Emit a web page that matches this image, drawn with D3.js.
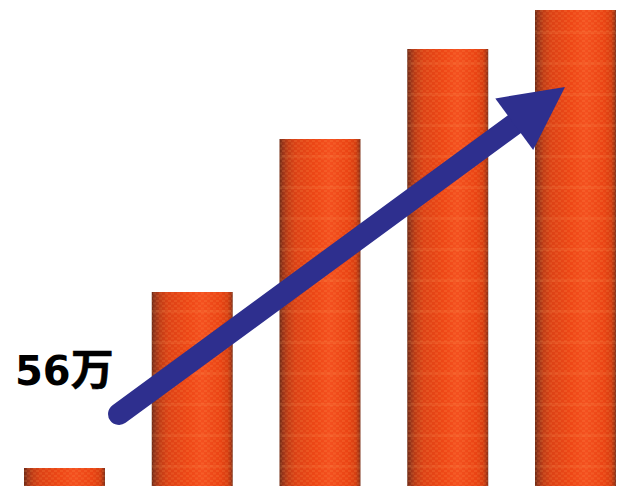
<!DOCTYPE html>
<html><head><meta charset="utf-8">
<script src="https://cdn.jsdelivr.net/npm/d3@7/dist/d3.min.js"></script>
<style>html,body{margin:0;padding:0;background:#fff}svg{display:block}</style>
</head><body><svg id="c" width="629" height="486"></svg>
<script>
const categories = ["1","2","3","4","5"];
const values = [18, 194, 347, 437, 476];
const labelText = ["56", "万"];
const arrowStart = [0.427, 72];
const arrowEnd = [3.918, 399];

const W = 629, H = 486;
const svg = d3.select("#c");
const x = d3.scaleBand().domain(categories).range([24, 616]).paddingInner(0.366);
const y = d3.scaleLinear().domain([0, 486]).range([H, 0]);
const xPos = d3.scaleLinear().domain([0, 4]).range([x("1") + x.bandwidth()/2, x("5") + x.bandwidth()/2]);

const defs = svg.append("defs");
const grad = defs.append("linearGradient").attr("id", "cyl").attr("x1", 0).attr("x2", 1).attr("y1", 0).attr("y2", 0);
[[0,"#6e2a16"],[0.04,"#98341a"],[0.1,"#bf3c16"],[0.2,"#dc4216"],[0.45,"#ee4716"],[0.62,"#f4501f"],[0.85,"#ea4414"],[0.94,"#d63f12"],[0.98,"#a83514"],[1,"#7a3420"]]
  .forEach(s => grad.append("stop").attr("offset", s[0]).attr("stop-color", s[1]));

const pat = defs.append("pattern").attr("id", "dots").attr("patternUnits", "userSpaceOnUse").attr("width", 6).attr("height", 5);
pat.append("rect").attr("x", 0).attr("y", 0).attr("width", 3).attr("height", 2).attr("fill", "#ffa860").attr("opacity", 0.16);
pat.append("rect").attr("x", 3).attr("y", 2.5).attr("width", 3).attr("height", 2).attr("fill", "#ffa860").attr("opacity", 0.16);

const bandPat = defs.append("pattern").attr("id", "bands").attr("patternUnits", "userSpaceOnUse").attr("width", 10).attr("height", 31);
bandPat.append("rect").attr("x", 0).attr("y", 0).attr("width", 10).attr("height", 3).attr("fill", "#ffb070").attr("opacity", 0.1);

const bars = svg.append("g").selectAll("g").data(categories).join("g");
["url(#cyl)", "url(#dots)", "url(#bands)"].forEach(f => {
  bars.append("rect").attr("x", d => x(d)).attr("width", x.bandwidth())
    .attr("y", (d,i) => y(values[i])).attr("height", (d,i) => y(0) - y(values[i])).attr("fill", f);
});

// arrow
const x0 = xPos(arrowStart[0]), y0 = y(arrowStart[1]);
const x1 = xPos(arrowEnd[0]), y1 = y(arrowEnd[1]);
const a = Math.atan2(y1 - y0, x1 - x0);
const headLen = 63, headHalf = 32, shaft = 22;
const bx = x1 - headLen*Math.cos(a), by = y1 - headLen*Math.sin(a);
const nx = -Math.sin(a), ny = Math.cos(a);
const g = svg.append("g");
g.append("line").attr("x1", x0).attr("y1", y0).attr("x2", bx + 8*Math.cos(a)).attr("y2", by + 8*Math.sin(a))
  .attr("stroke", "#2e2f8e").attr("stroke-width", shaft).attr("stroke-linecap", "round");
g.append("path").attr("d", d3.line()([[x1,y1],[bx+nx*headHalf,by+ny*headHalf],[bx-nx*headHalf,by-ny*headHalf]])+"Z").attr("fill", "#2e2f8e");

const t = svg.append("text").attr("x", 15).attr("y", 385).attr("fill", "#000").attr("font-weight", 700);
t.append("tspan").attr("font-family", "'DejaVu Sans'").attr("font-size", 40).text(labelText[0]);
t.append("tspan").attr("font-family", "'Noto Sans CJK JP'").attr("font-size", 43).attr("dx", 0).attr("stroke", "#000").attr("stroke-width", 0.6).text(labelText[1]);
</script></body></html>
